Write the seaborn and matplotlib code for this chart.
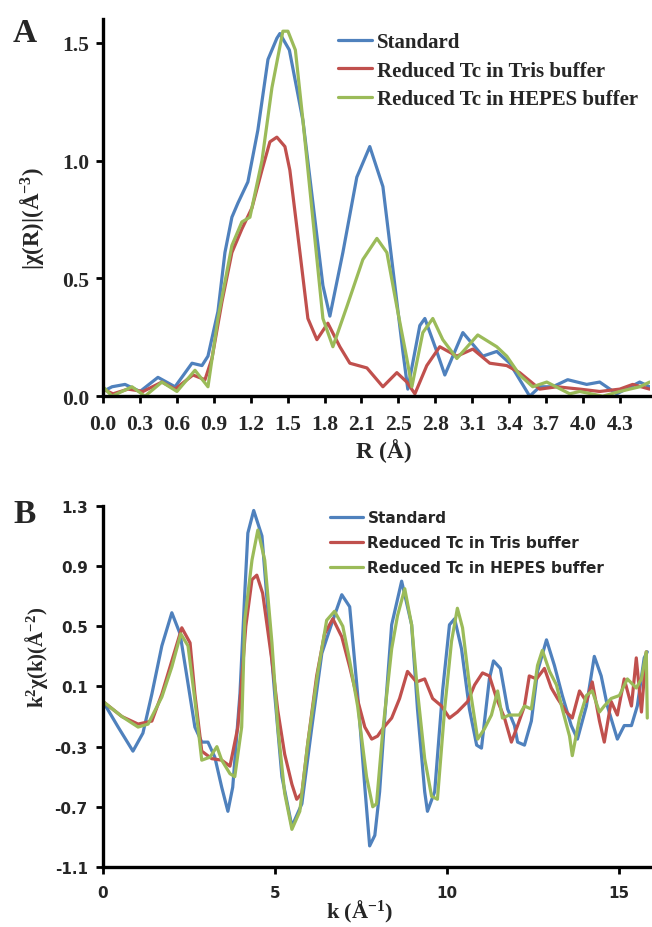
import numpy as np
import pandas as pd
import seaborn as sns
import matplotlib
matplotlib.use("Agg")
import matplotlib.pyplot as plt
from matplotlib.lines import Line2D

# ---------------- Panel A data: |chi(R)| ----------------
std_r = [0.0, 0.075, 0.183, 0.308, 0.457, 0.599, 0.740, 0.823, 0.873, 0.956, 1.014, 1.072, 1.122,
         1.205, 1.288, 1.372, 1.446, 1.471, 1.55, 1.663, 1.746, 1.829, 1.887, 1.995, 2.111, 2.219,
         2.328, 2.411, 2.494, 2.535, 2.635, 2.677, 2.776, 2.843, 2.993, 3.159, 3.275, 3.383, 3.549,
         3.633, 3.741, 3.865, 4.023, 4.131, 4.273, 4.464, 4.547]
std_chi = [0.02, 0.04, 0.05, 0.02, 0.08, 0.04, 0.14, 0.13, 0.17, 0.36, 0.61, 0.76, 0.82,
           0.91, 1.13, 1.43, 1.52, 1.54, 1.47, 1.17, 0.82, 0.47, 0.34, 0.61, 0.93, 1.06,
           0.89, 0.54, 0.19, 0.03, 0.30, 0.33, 0.19, 0.09, 0.27, 0.17, 0.19, 0.14, 0.0,
           0.04, 0.04, 0.07, 0.05, 0.06, 0.01, 0.06, 0.04]

tris_r = [0.0, 0.083, 0.208, 0.333, 0.490, 0.599, 0.748, 0.848, 0.906, 0.989, 1.072, 1.155, 1.239,
          1.322, 1.388, 1.446, 1.513, 1.554, 1.638, 1.704, 1.779, 1.870, 1.970, 2.053, 2.195,
          2.328, 2.444, 2.527, 2.594, 2.693, 2.801, 2.943, 3.076, 3.217, 3.358, 3.466, 3.633,
          3.774, 3.965, 4.131, 4.298, 4.406, 4.547]
tris_chi = [0.03, 0.01, 0.03, 0.02, 0.06, 0.03, 0.09, 0.07, 0.16, 0.40, 0.61, 0.71, 0.80,
            0.96, 1.08, 1.10, 1.06, 0.96, 0.61, 0.33, 0.24, 0.31, 0.21, 0.14, 0.12,
            0.04, 0.10, 0.06, 0.01, 0.13, 0.21, 0.17, 0.20, 0.14, 0.13, 0.10, 0.03,
            0.04, 0.03, 0.02, 0.03, 0.05, 0.03]

hepes_r = [0.0, 0.075, 0.241, 0.349, 0.490, 0.615, 0.765, 0.873, 0.956, 1.072, 1.155, 1.222, 1.322,
           1.405, 1.496, 1.538, 1.60, 1.663, 1.746, 1.829, 1.912, 2.028, 2.161, 2.278, 2.361,
           2.444, 2.527, 2.569, 2.660, 2.743, 2.826, 2.943, 3.117, 3.275, 3.358, 3.466, 3.574,
           3.691, 3.882, 3.965, 4.156, 4.298, 4.464, 4.547]
hepes_chi = [0.04, 0.0, 0.04, 0.0, 0.06, 0.02, 0.11, 0.04, 0.33, 0.64, 0.74, 0.76, 1.00,
             1.31, 1.55, 1.55, 1.47, 1.17, 0.75, 0.33, 0.21, 0.38, 0.58, 0.67, 0.61,
             0.38, 0.16, 0.04, 0.27, 0.33, 0.24, 0.16, 0.26, 0.21, 0.17, 0.09, 0.04,
             0.06, 0.01, 0.02, 0.0, 0.02, 0.04, 0.06]

# Excel category axis labels (rounded R values)
r_tick_labels = ["0.0", "0.3", "0.6", "0.9", "1.2", "1.5", "1.8", "2.1", "2.5", "2.8",
                 "3.1", "3.4", "3.7", "4.0", "4.3"]

# ---------------- Panel B data: k^2 chi(k) ----------------
std_k = [0.0, 0.44, 0.87, 1.16, 1.42, 1.71, 2.0, 2.24, 2.47, 2.67, 2.87, 3.05, 3.25, 3.45, 3.63,
         3.77, 3.98, 4.12, 4.21, 4.38, 4.62, 4.79, 4.99, 5.2, 5.49, 5.78, 6.07, 6.36, 6.65, 6.94,
         7.17, 7.4, 7.61, 7.75, 7.9, 8.04, 8.19, 8.39, 8.68, 8.97, 9.14, 9.35, 9.43, 9.64, 9.87,
         10.07, 10.22, 10.42, 10.65, 10.86, 11.0, 11.23, 11.35, 11.55, 11.76, 11.96, 12.05, 12.25,
         12.45, 12.63, 12.89, 13.12, 13.35, 13.61, 13.79, 14.05, 14.28, 14.48, 14.66, 14.95,
         15.15, 15.36, 15.53, 15.73, 15.82]
std_k2chi = [0.0, -0.17, -0.33, -0.21, 0.05, 0.37, 0.59, 0.45, 0.12, -0.17, -0.27, -0.27, -0.37, -0.57, -0.73,
             -0.57, 0.05, 0.72, 1.12, 1.27, 1.1, 0.61, 0.05, -0.5, -0.83, -0.68, -0.17, 0.32, 0.52, 0.71,
             0.63, 0.05, -0.57, -0.96, -0.89, -0.6, -0.1, 0.51, 0.8, 0.51, -0.05, -0.6, -0.73, -0.6, 0.07,
             0.51, 0.55, 0.35, -0.05, -0.29, -0.31, 0.15, 0.27, 0.22, -0.05, -0.16, -0.27, -0.29,
             -0.13, 0.2, 0.41, 0.24, 0.04, -0.16, -0.25, -0.03, 0.3, 0.17, -0.03, -0.25,
             -0.16, -0.16, -0.03, 0.29, 0.33]

tris_k = [0.0, 0.55, 1.02, 1.42, 1.71, 2.0, 2.29, 2.53, 2.67, 2.87, 3.16, 3.45, 3.69, 3.92, 4.05,
          4.15, 4.33, 4.47, 4.64, 4.91, 5.08, 5.28, 5.49, 5.63, 5.78, 5.95, 6.21, 6.44, 6.68, 6.94,
          7.17, 7.4, 7.61, 7.81, 7.98, 8.13, 8.39, 8.62, 8.85, 9.11, 9.35, 9.58, 9.84, 10.07, 10.3,
          10.6, 10.8, 11.03, 11.23, 11.44, 11.67, 11.87, 12.05, 12.25, 12.39, 12.6, 12.83, 13.03,
          13.21, 13.47, 13.64, 13.85, 14.05, 14.22, 14.43, 14.57, 14.77, 14.95, 15.15, 15.36,
          15.5, 15.65, 15.79]
tris_k2chi = [0.0, -0.1, -0.15, -0.13, 0.05, 0.27, 0.49, 0.39, 0.05, -0.33, -0.38, -0.39, -0.43, -0.17, 0.2,
              0.5, 0.81, 0.84, 0.72, 0.27, -0.06, -0.35, -0.55, -0.65, -0.61, -0.28, 0.17, 0.45, 0.55, 0.43,
              0.23, 0.01, -0.17, -0.25, -0.23, -0.18, -0.11, 0.02, 0.2, 0.13, 0.15, 0.02, -0.03, -0.11, -0.07,
              0.0, 0.11, 0.19, 0.17, 0.02, -0.11, -0.27, -0.16, -0.03, 0.17, 0.15, 0.22, 0.09,
              0.02, -0.07, -0.11, 0.07, 0.0, 0.13, -0.13, -0.27, 0.0, -0.09, 0.15, -0.03,
              0.29, -0.07, 0.33]

hepes_k = [0.0, 0.55, 1.02, 1.31, 1.71, 2.0, 2.26, 2.47, 2.67, 2.87, 3.11, 3.31, 3.45, 3.69, 3.83,
           4.03, 4.12, 4.33, 4.5, 4.7, 4.91, 5.08, 5.28, 5.49, 5.72, 5.95, 6.24, 6.5, 6.73, 6.97,
           7.17, 7.4, 7.66, 7.84, 7.95, 8.13, 8.39, 8.56, 8.77, 8.97, 9.14, 9.35, 9.55, 9.72, 9.93,
           10.13, 10.3, 10.45, 10.65, 10.89, 11.09, 11.29, 11.47, 11.61, 11.81, 12.1, 12.25, 12.45,
           12.63, 12.77, 12.98, 13.18, 13.35, 13.56, 13.64, 13.85, 14.05, 14.22, 14.43, 14.57,
           14.77, 15.01, 15.24, 15.5, 15.65, 15.79, 15.82]
hepes_k2chi = [0.0, -0.1, -0.17, -0.15, 0.03, 0.23, 0.45, 0.37, 0.01, -0.39, -0.37, -0.3, -0.39, -0.48, -0.5,
               -0.17, 0.54, 0.94, 1.14, 0.94, 0.39, -0.17, -0.61, -0.85, -0.73, -0.28, 0.19, 0.54, 0.6, 0.5,
               0.27, -0.03, -0.5, -0.7, -0.68, -0.2, 0.35, 0.57, 0.75, 0.51, 0.07, -0.38, -0.63, -0.65, -0.05,
               0.4, 0.62, 0.49, 0.11, -0.25, -0.18, -0.09, 0.07, -0.11, -0.09, -0.09, -0.03, -0.05,
               0.24, 0.34, 0.2, 0.11, -0.05, -0.23, -0.36, -0.11, 0.04, 0.07, -0.07, -0.03,
               0.02, 0.04, 0.15, 0.09, 0.15, 0.33, -0.11]

series_names = ["Standard", "Reduced Tc in Tris buffer", "Reduced Tc in HEPES buffer"]
colors = ["#4F81BD", "#C0504D", "#9BBB59"]

dfA = pd.concat([
    pd.DataFrame({"R": std_r, "val": std_chi, "series": series_names[0]}),
    pd.DataFrame({"R": tris_r, "val": tris_chi, "series": series_names[1]}),
    pd.DataFrame({"R": hepes_r, "val": hepes_chi, "series": series_names[2]}),
])
dfB = pd.concat([
    pd.DataFrame({"k": std_k, "val": std_k2chi, "series": series_names[0]}),
    pd.DataFrame({"k": tris_k, "val": tris_k2chi, "series": series_names[1]}),
    pd.DataFrame({"k": hepes_k, "val": hepes_k2chi, "series": series_names[2]}),
])

sns.set_style("white")
plt.rcParams["font.family"] = ["Liberation Serif", "DejaVu Serif"]
plt.rcParams["font.weight"] = "bold"
plt.rcParams["axes.unicode_minus"] = False
plt.rcParams["mathtext.fontset"] = "custom"
plt.rcParams["mathtext.rm"] = "Liberation Serif:bold"
plt.rcParams["mathtext.it"] = "Liberation Serif:bold"
plt.rcParams["mathtext.bf"] = "Liberation Serif:bold"

fig = plt.figure(figsize=(6.52, 9.28), dpi=100)
axA = fig.add_axes([0.158, 0.572, 0.839, 0.406])
axB = fig.add_axes([0.158, 0.0647, 0.839, 0.389])

pal = dict(zip(series_names, colors))

# Panel A
sns.lineplot(data=dfA, x="R", y="val", hue="series", palette=pal, linewidth=2.3,
             ax=axA, legend=False, sort=False)
axA.set_xlim(0, 4.55)
axA.set_ylim(0, 1.6)
axA.set_xticks(np.arange(len(r_tick_labels)) * 0.3071)
axA.set_xticklabels(r_tick_labels)
axA.set_yticks([0, 0.5, 1.0, 1.5])
axA.set_yticklabels(["0.0", "0.5", "1.0", "1.5"])
axA.set_xlabel("R (Å)", fontsize=17, fontweight="bold")
axA.xaxis.set_label_coords(0.514, -0.143)
axA.xaxis.label.set_va("center")
axA.set_ylabel(r"|χ(R)|(Å$^{-3}$)", fontsize=16.5, fontweight="bold")
axA.yaxis.set_label_coords(-0.13, 0.475)
axA.yaxis.label.set_va("center")
for lab in axA.get_xticklabels() + axA.get_yticklabels():
    lab.set_fontsize(15.5)
    lab.set_fontweight("bold")

# Panel B
sns.lineplot(data=dfB, x="k", y="val", hue="series", palette=pal, linewidth=2.3,
             ax=axB, legend=False, sort=False)
axB.set_xlim(0, 15.9)
axB.set_ylim(-1.1, 1.3)
axB.set_xticks([0, 5, 10, 15])
axB.set_yticks(np.round(np.arange(-1.1, 1.31, 0.4), 1))
axB.set_xlabel(r"k (Å$^{-1}$)", fontsize=16, fontweight="bold")
axB.xaxis.set_label_coords(0.47, -0.123)
axB.xaxis.label.set_va("center")
axB.set_ylabel(r"k$^{2}$χ(k)(Å$^{-2}$)", fontsize=15, fontweight="bold")
axB.yaxis.set_label_coords(-0.122, 0.584)
axB.yaxis.label.set_va("center")
for lab in axB.get_xticklabels() + axB.get_yticklabels():
    lab.set_fontsize(11)
    lab.set_fontweight("bold")
    lab.set_family("DejaVu Sans")

for ax in (axA, axB):
    sns.despine(ax=ax)
    for s in ("left", "bottom"):
        ax.spines[s].set_linewidth(2.4)
        ax.spines[s].set_color("black")
    ax.tick_params(axis="both", direction="out", length=5, width=2, color="black",
                   bottom=True, left=True)
axA.tick_params(axis="x", pad=8)
axA.tick_params(axis="y", pad=5)
axB.tick_params(axis="x", pad=8)
axB.tick_params(axis="y", pad=6)

handles = [Line2D([0], [0], color=c, lw=2.3) for c in colors]

axA.legend(handles, series_names, loc="upper left", bbox_to_anchor=(0.43, 0.966),
           frameon=False, handlelength=1.6, handletextpad=0.25, labelspacing=0.4,
           borderpad=0, borderaxespad=0,
           prop={"family": "Liberation Serif", "weight": "bold", "size": 15})

axB.legend(handles, series_names, loc="upper left", bbox_to_anchor=(0.415, 0.988),
           frameon=False, handlelength=2.15, handletextpad=0.3, labelspacing=0.65,
           borderpad=0, borderaxespad=0,
           prop={"family": "DejaVu Sans", "weight": "bold", "size": 11})

fig.text(0.02, 0.955, "A", fontsize=24, fontweight="bold", family="Liberation Serif")
fig.text(0.02, 0.436, "B", fontsize=24, fontweight="bold", family="Liberation Serif")

fig.savefig("out.png", dpi=100)
